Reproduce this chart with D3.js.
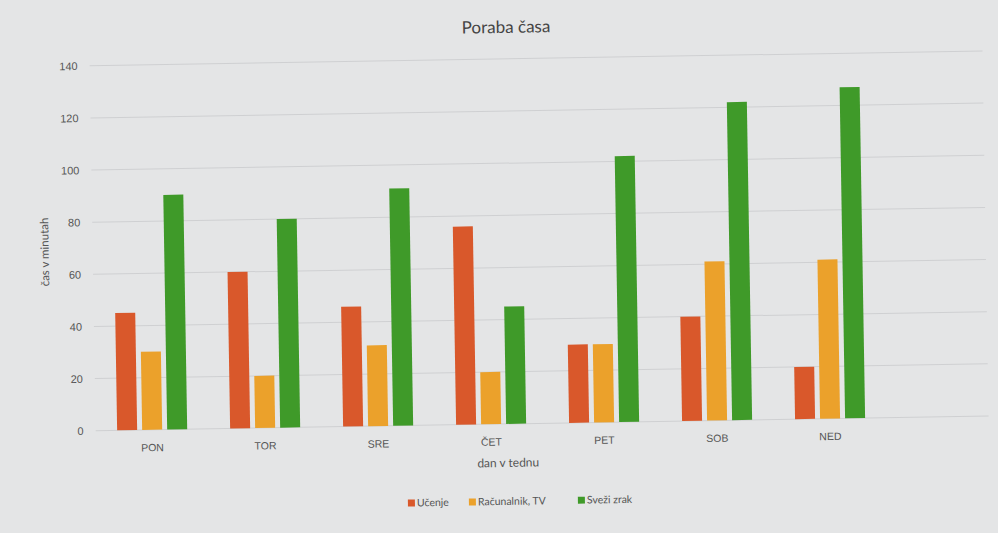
<!DOCTYPE html>
<html>
<head>
<meta charset="utf-8">
<script src="https://cdn.jsdelivr.net/npm/d3@7"></script>
<style>
  body { margin: 0; background: #e4e5e6; }
  svg { display: block; font-family: Lato, "Open Sans", sans-serif; }
</style>
</head>
<body>
<svg id="chart"></svg>
<script>
// data
const days = ["PON", "TOR", "SRE", "ČET", "PET", "SOB", "NED"];
const seriesNames = ["Učenje", "Računalnik, TV", "Sveži zrak"];
const ucenje = [45, 60, 46, 76, 30, 40, 20];
const racunalnik = [30, 20, 31, 20, 30, 61, 61];
const svezZrak = [90, 80, 91, 45, 102, 122, 127];
const yTicks = [0, 20, 40, 60, 80, 100, 120, 140];
const colors = ["#d9582b", "#eba12b", "#3f9a29"];

const width = 998, height = 533;
const margin = {top: 59, right: 12, bottom: 109, left: 93};
const bandStep = 113;

const svg = d3.select("#chart")
    .attr("width", width)
    .attr("height", height);

svg.append("rect")
    .attr("width", width)
    .attr("height", height)
    .attr("fill", "#e4e5e6");

// the photographed page is tilted a little, right side up
const g = svg.append("g")
    .attr("transform", "rotate(-0.95, 500, 266)");

const x = d3.scaleBand()
    .domain(days)
    .range([margin.left, margin.left + bandStep * days.length])
    .paddingInner(0.38)
    .paddingOuter(0.19);

const xSub = d3.scaleBand()
    .domain(seriesNames)
    .range([0, x.bandwidth()])
    .paddingInner(0.2);

const y = d3.scaleLinear()
    .domain([0, 140])
    .range([height - margin.bottom, margin.top]);

// gridlines
g.append("g")
    .selectAll("line")
    .data(yTicks)
    .join("line")
    .attr("x1", margin.left)
    .attr("x2", width - margin.right)
    .attr("y1", d => y(d))
    .attr("y2", d => y(d))
    .attr("stroke", "#cfd0d2")
    .attr("stroke-width", 1);

// y axis labels
const yAxis = d3.axisLeft(y)
    .tickValues(yTicks)
    .tickSize(0)
    .tickPadding(12);

g.append("g")
    .attr("transform", "translate(" + margin.left + ",0)")
    .call(yAxis)
    .call(a => a.select(".domain").remove())
    .selectAll("text")
    .attr("font-size", 11)
    .attr("fill", "#555");

// x axis labels
const xAxis = d3.axisBottom(x).tickSize(0).tickPadding(14);
g.append("g")
    .attr("transform", "translate(0," + y(0) + ")")
    .call(xAxis)
    .call(a => a.select(".domain").remove())
    .selectAll("text")
    .attr("font-size", 10.5)
    .attr("fill", "#555");

// bars
const table = days.map((d, i) => ({
    day: d,
    values: [ucenje[i], racunalnik[i], svezZrak[i]]
}));

const groups = g.append("g")
    .selectAll("g")
    .data(table)
    .join("g")
    .attr("transform", d => "translate(" + x(d.day) + ",0)");

groups.selectAll("rect")
    .data(d => d.values.map((v, k) => ({name: seriesNames[k], value: v, k: k})))
    .join("rect")
    .attr("x", d => xSub(d.name))
    .attr("y", d => y(d.value))
    .attr("width", xSub.bandwidth())
    .attr("height", d => y(0) - y(d.value))
    .attr("fill", d => colors[d.k]);

// titles
g.append("text")
    .attr("x", 510)
    .attr("y", 33)
    .attr("text-anchor", "middle")
    .attr("font-size", 17)
    .attr("fill", "#444")
    .text("Poraba časa");

g.append("text")
    .attr("transform", "translate(49," + (y(70) + 3) + ") rotate(-90)")
    .attr("text-anchor", "middle")
    .attr("font-size", 11.5)
    .attr("fill", "#555")
    .text("čas v minutah");

g.append("text")
    .attr("x", 505)
    .attr("y", y(0) + 43)
    .attr("text-anchor", "middle")
    .attr("font-size", 12)
    .attr("fill", "#555")
    .text("dan v tednu");

// legend
const legendX = [404, 465, 574];
const legend = g.append("g")
    .selectAll("g")
    .data(seriesNames)
    .join("g")
    .attr("transform", (d, i) => "translate(" + legendX[i] + ",505)");

legend.append("rect")
    .attr("x", 0)
    .attr("y", -7)
    .attr("width", 7)
    .attr("height", 7)
    .attr("fill", (d, i) => colors[i]);

legend.append("text")
    .attr("x", 9)
    .attr("y", 0)
    .attr("font-size", 10.5)
    .attr("fill", "#555")
    .text(d => d);
</script>
</body>
</html>
